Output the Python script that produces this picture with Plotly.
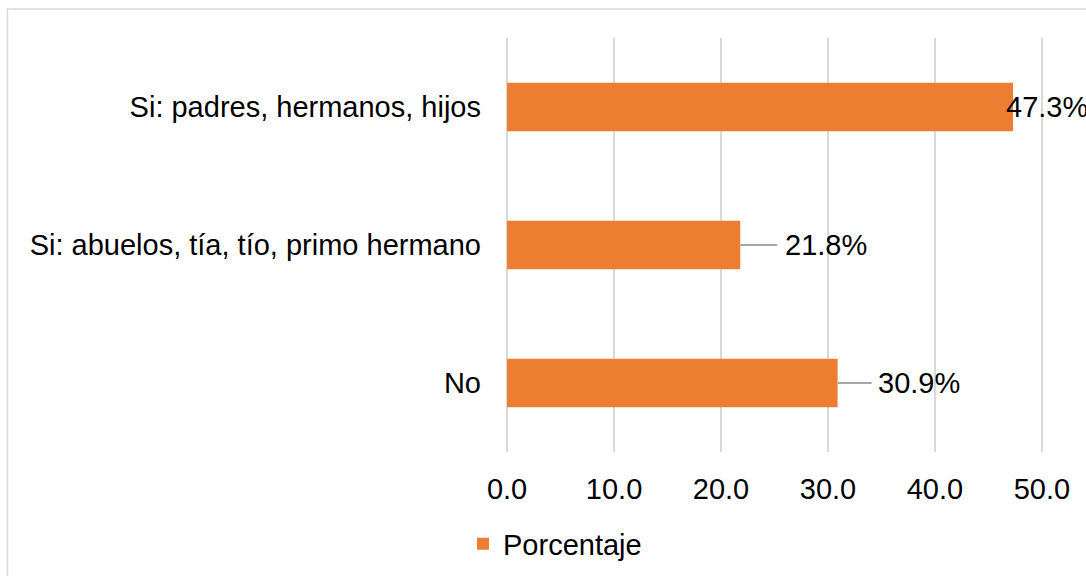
import plotly.graph_objects as go

# Categories (top to bottom) and their percentages
categories = [
    "Si: padres, hermanos, hijos",
    "Si: abuelos, tía, tío, primo hermano",
    "No",
]
values = [47.3, 21.8, 30.9]
series_name = "Porcentaje"
tick_values = [0, 10, 20, 30, 40, 50]
tick_labels = ["0.0", "10.0", "20.0", "30.0", "40.0", "50.0"]

# Label placement per bar: pixel shift of text and length of leader line
label_shift = [-9, 43, 38]
leader_len = [0, 37, 34]

W, H = 1086, 576
# x range padded slightly so the 0 and 50 grid lines are drawn
X_MIN, X_MAX = -0.1, 50.1
px_per_unit = 535 / 50
L = round(507 - 0.1 * px_per_unit)
R = round(W - 1042 - 0.1 * px_per_unit)
T, B = 38, 124
plot_w = W - L - R
plot_h = H - T - B

BAR = "#ED7D31"
GRID = "#D9D9D9"
FONT = "Liberation Sans, Arial, sans-serif"

fig = go.Figure()
fig.add_trace(go.Bar(
    x=values, y=categories, orientation="h",
    name=series_name, marker=dict(color=BAR, line=dict(width=0)),
    showlegend=True,
))

annotations = []
shapes = []
for cat, v, sh, ll in zip(categories, values, label_shift, leader_len):
    annotations.append(dict(
        x=v, y=cat, xref="x", yref="y", text=f"{v}%", showarrow=False,
        xanchor="left", yanchor="middle", xshift=sh,
        font=dict(size=29, color="#000000", family=FONT),
    ))
    if ll > 0:
        shapes.append(dict(
            type="line", xref="x", yref="y", xsizemode="pixel",
            xanchor=v, x0=0, x1=ll, y0=cat, y1=cat,
            line=dict(color="#A6A6A6", width=2),
        ))

# Chart-area border
shapes.append(dict(
    type="rect", xref="paper", yref="paper",
    x0=(7.5 - L) / plot_w, x1=2.0,
    y0=-1.0, y1=1 + (T - 9) / plot_h,
    line=dict(color="#D9D9D9", width=1.5), fillcolor="rgba(0,0,0,0)",
    layer="below",
))

fig.update_layout(
    width=W, height=H,
    margin=dict(l=L, r=R, t=T, b=B, pad=0, autoexpand=False),
    paper_bgcolor="white", plot_bgcolor="white",
    font=dict(family=FONT, size=29, color="#000000"),
    bargap=0.65,
    showlegend=True,
    legend=dict(
        orientation="h", xref="container", yref="container",
        x=555 / W, xanchor="center",
        y=1 - 544 / H, yanchor="middle",
        font=dict(size=29, color="#000000", family=FONT),
        bgcolor="rgba(0,0,0,0)",
    ),
    annotations=annotations,
    shapes=shapes,
    xaxis=dict(
        range=[X_MIN, X_MAX], tickvals=tick_values, ticktext=tick_labels,
        showgrid=True, gridcolor=GRID, gridwidth=2,
        zeroline=False, showline=False, ticks="",
        ticklabelstandoff=17,
        tickfont=dict(size=29, color="#000000", family=FONT),
        fixedrange=True, automargin=False,
    ),
    yaxis=dict(
        categoryorder="array", categoryarray=categories[::-1],
        showgrid=False, zeroline=False, showline=False, ticks="",
        ticklabelstandoff=24,
        tickfont=dict(size=29, color="#000000", family=FONT),
        fixedrange=True, automargin=False,
    ),
)

fig.write_html("out.html")
